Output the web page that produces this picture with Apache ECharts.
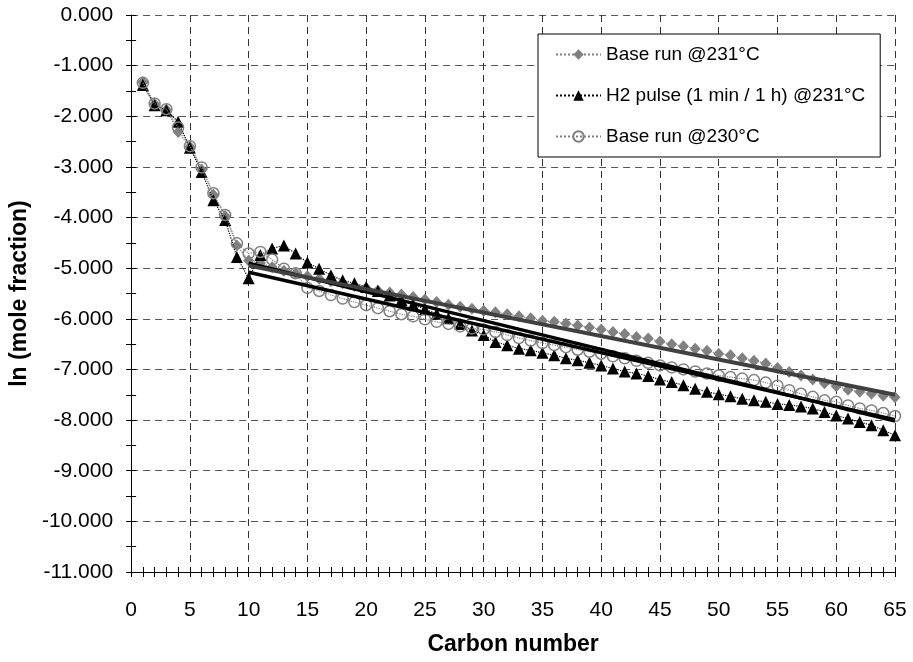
<!DOCTYPE html>
<html>
<head>
<meta charset="utf-8">
<script src="https://cdn.jsdelivr.net/npm/echarts@6/dist/echarts.min.js"></script>
<style>
html,body{margin:0;padding:0;background:#fff;}
#chart{width:913px;height:662px;}
</style>
</head>
<body>
<div id="chart"></div>
<script>
const carbon = [1,2,3,4,5,6,7,8,9,10,11,12,13,14,15,16,17,18,19,20,21,22,23,24,25,26,27,28,29,30,31,32,33,34,35,36,37,38,39,40,41,42,43,44,45,46,47,48,49,50,51,52,53,54,55,56,57,58,59,60,61,62,63,64,65];

const base231 = [-1.33,-1.76,-1.87,-2.31,-2.60,-3.05,-3.55,-3.97,-4.55,-4.85,
  -4.90,-4.98,-5.05,-5.10,-5.16,-5.21,-5.26,-5.30,-5.35,-5.39,
  -5.44,-5.48,-5.52,-5.57,-5.62,-5.67,-5.72,-5.76,-5.80,-5.84,
  -5.87,-5.91,-5.95,-5.99,-6.04,-6.06,-6.09,-6.13,-6.17,-6.21,
  -6.26,-6.30,-6.36,-6.39,-6.45,-6.50,-6.54,-6.59,-6.63,-6.69,
  -6.72,-6.78,-6.83,-6.88,-6.97,-7.05,-7.12,-7.20,-7.27,-7.33,
  -7.40,-7.44,-7.48,-7.52,-7.55];

const h2pulse = [-1.38,-1.78,-1.88,-2.11,-2.62,-3.10,-3.66,-4.05,-4.78,-5.20,
  -4.74,-4.61,-4.55,-4.71,-4.89,-5.01,-5.14,-5.24,-5.30,-5.37,
  -5.45,-5.54,-5.63,-5.72,-5.81,-5.90,-5.99,-6.10,-6.23,-6.32,
  -6.46,-6.52,-6.59,-6.62,-6.67,-6.72,-6.78,-6.82,-6.87,-6.92,
  -6.98,-7.04,-7.08,-7.13,-7.20,-7.25,-7.31,-7.38,-7.44,-7.49,
  -7.53,-7.58,-7.61,-7.64,-7.68,-7.70,-7.73,-7.77,-7.84,-7.91,
  -7.97,-8.04,-8.10,-8.20,-8.30];

const base230 = [-1.34,-1.75,-1.86,-2.22,-2.59,-3.01,-3.52,-3.95,-4.51,-4.71,
  -4.68,-4.83,-5.01,-5.10,-5.39,-5.45,-5.53,-5.60,-5.67,-5.73,
  -5.79,-5.85,-5.91,-5.95,-6.01,-6.06,-6.10,-6.15,-6.19,-6.21,
  -6.26,-6.32,-6.38,-6.43,-6.48,-6.52,-6.56,-6.61,-6.65,-6.69,
  -6.74,-6.78,-6.83,-6.87,-6.92,-6.96,-7.00,-7.04,-7.08,-7.12,
  -7.15,-7.18,-7.21,-7.26,-7.32,-7.41,-7.48,-7.54,-7.61,-7.64,
  -7.71,-7.77,-7.81,-7.86,-7.92];

// trend lines (start / end points, C10..C65)
const trend231 = [[10,-4.95],[65,-7.50]];
const trendH2 = [[10,-4.90],[65,-8.02]];
const trend230 = [[10,-5.08],[65,-7.99]];

const seriesNames = ['Base run @231°C','H2 pulse (1 min / 1 h) @231°C','Base run @230°C'];
const xTicks = {min:0, max:65, interval:5};
const yTicks = {min:-11, max:0, interval:1};

const FONT = '"Liberation Sans", Arial, sans-serif';
const pairs = arr => carbon.map((c,i)=>[c, arr[i]]);

const chart = echarts.init(document.getElementById('chart'), null, {renderer:'canvas'});

const baseX = {
  type:'value', min:xTicks.min, max:xTicks.max, interval:xTicks.interval, position:'bottom'
};
const baseY = {
  type:'value', min:yTicks.min, max:yTicks.max, interval:yTicks.interval, position:'left'
};

chart.setOption({
  animation:false,
  backgroundColor:'#fff',
  grid:{left:128, right:18, top:15, bottom:90, containLabel:false},
  legend:{
    data:seriesNames,
    orient:'vertical',
    left:538, top:34,
    padding:[11,15,11,17],
    itemGap:22,
    itemWidth:45, itemHeight:13,
    backgroundColor:'#fff',
    borderColor:'#000', borderWidth:1,
    textStyle:{fontFamily:FONT, fontSize:19, color:'#000'}
  },
  xAxis:[
    Object.assign({}, baseX, {
      name:'Carbon number', nameLocation:'middle', nameGap:61,
      nameTextStyle:{fontFamily:FONT, fontSize:23, fontWeight:'bold', color:'#000'},
      axisLine:{show:true, onZero:false, lineStyle:{color:'#000', width:1}},
      axisTick:{show:true, length:5, lineStyle:{color:'#000'}},
      minorTick:{show:true, splitNumber:5, length:5, lineStyle:{color:'#000'}},
      axisLabel:{fontFamily:FONT, fontSize:21, color:'#000', margin:28},
      splitLine:{show:true, lineStyle:{color:'#333', type:[7,5], width:1}}
    }),
    Object.assign({}, baseX, {
      axisLine:{show:false, onZero:false},
      axisTick:{show:true, inside:true, length:5, lineStyle:{color:'#000'}},
      minorTick:{show:true, splitNumber:5, length:5, lineStyle:{color:'#000'}},
      axisLabel:{show:false},
      splitLine:{show:false}
    })
  ],
  yAxis:[
    Object.assign({}, baseY, {
      name:'ln (mole fraction)', nameLocation:'middle', nameGap:93,
      nameTextStyle:{fontFamily:FONT, fontSize:23, fontWeight:'bold', color:'#000'},
      axisLine:{show:true, onZero:false, lineStyle:{color:'#000', width:1}},
      axisTick:{show:true, length:5, lineStyle:{color:'#000'}},
      minorTick:{show:true, splitNumber:2, length:5, lineStyle:{color:'#000'}},
      axisLabel:{fontFamily:FONT, fontSize:21, color:'#000', margin:18,
        formatter:v=>v.toFixed(3)},
      splitLine:{show:true, lineStyle:{color:'#555', type:[7,5], width:1}}
    }),
    Object.assign({}, baseY, {
      axisLine:{show:false, onZero:false},
      axisTick:{show:true, inside:true, length:5, lineStyle:{color:'#000'}},
      minorTick:{show:true, splitNumber:2, length:5, lineStyle:{color:'#000'}},
      axisLabel:{show:false},
      splitLine:{show:false}
    })
  ],
  series:[
    {
      name:seriesNames[0], type:'line', data:pairs(base231),
      symbol:'diamond', symbolSize:[11,12],
      itemStyle:{color:'#808080'},
      lineStyle:{color:'#808080', width:1.2, type:'dotted'},
      z:2
    },
    {
      name:seriesNames[1], type:'line', data:pairs(h2pulse),
      symbol:'triangle', symbolSize:[12,12],
      itemStyle:{color:'#000'},
      lineStyle:{color:'#000', width:1.2, type:'dotted'},
      z:3
    },
    {
      name:seriesNames[2], type:'line', data:pairs(base230),
      symbol:'circle', symbolSize:11,
      itemStyle:{color:'rgba(255,255,255,0)', borderColor:'#808080', borderWidth:1.5},
      lineStyle:{color:'#808080', width:1.2, type:'dotted'},
      z:4
    },
    {
      name:'trend230', type:'line', data:trend230, symbol:'none',
      lineStyle:{color:'#000', width:3.5}, z:5, silent:true
    },
    {
      name:'trendH2', type:'line', data:trendH2, symbol:'none',
      lineStyle:{color:'#000', width:3.5}, z:5, silent:true
    },
    {
      name:'trend231', type:'line', data:trend231, symbol:'none',
      lineStyle:{color:'#404040', width:4}, z:6, silent:true
    }
  ]
});
</script>
</body>
</html>
